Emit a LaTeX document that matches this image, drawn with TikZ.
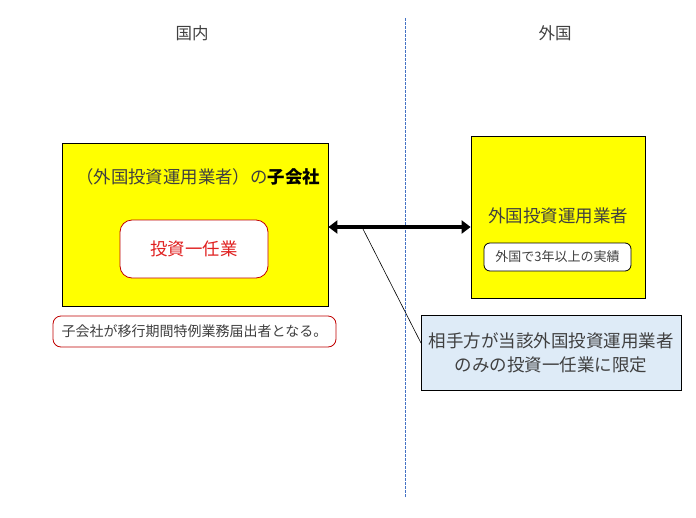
\documentclass[tikz,border=0pt]{standalone}
\usepackage{fontspec}
\setmainfont{Noto Sans CJK JP}
\usetikzlibrary{arrows.meta}
\definecolor{txtgray}{HTML}{404040}
\definecolor{notered}{HTML}{C00000}
\definecolor{textred}{HTML}{E02020}
\definecolor{calloutblue}{HTML}{DEEBF7}
\definecolor{borderblue}{HTML}{4472C4}
\definecolor{boxyellow}{HTML}{FFFF00}
\begin{document}
\begin{tikzpicture}[x=1pt,y=-1pt,
    yellowbox/.style={rectangle,draw=black,fill=boxyellow,inner sep=0pt},
    pillbox/.style={rectangle,rounded corners=8pt,inner sep=0pt,fill=white},
    label/.style={text=txtgray,inner sep=0pt}]
  \useasboundingbox (0,0) rectangle (696,517);
  % headings and border line
  \node[label,font=\fontsize{16.5}{19}\selectfont] (home) at (192,33) {国内};
  \node[label,font=\fontsize{16.5}{19}\selectfont] (abroad) at (555,33) {外国};
  \coordinate (bordertop) at (405,18);
  \coordinate (borderbot) at (405,497);
  \draw[borderblue,line width=0.6pt,dash pattern=on 2.5pt off 1.5pt] (bordertop) -- (borderbot);
  \begin{scope}[every node/.style={yellowbox,line width=0.8pt}]
    \node[minimum width=266pt,minimum height=163pt] (sub) at (195,224.5) {};
    \node[minimum width=174pt,minimum height=162pt] (firm) at (558,217) {};
  \end{scope}
  \node[label,font=\fontsize{17.4}{20}\selectfont] (subtitle) at (198,177)
    {（外国投資運用業者）の\textcolor{black}{\bfseries 子会社}};
  \node[pillbox,draw=notered,line width=0.8pt,rounded corners=12pt,
    minimum width=148pt,minimum height=58pt,text=textred,
    font=\fontsize{17.4}{20}\selectfont] (dm) at (194,249) {投資一任業};
  \node[pillbox,draw=notered,line width=0.8pt,minimum width=283pt,minimum height=31pt,
    text=txtgray,font=\fontsize{14}{16}\selectfont] (note) at (194.5,331.5)
    {子会社が移行期間特例業務届出者となる。};
  \node[label,font=\fontsize{17.5}{20}\selectfont] (firmtitle) at (558,216) {外国投資運用業者};
  \node[pillbox,draw=black,line width=0.8pt,rounded corners=6pt,minimum width=147pt,
    minimum height=28pt,text=txtgray,font=\fontsize{13}{16}\selectfont] (record) at (557.5,257)
    {外国で3年以上の実績};
  \node[rectangle,draw=black,fill=calloutblue,line width=0.8pt,minimum width=260pt,
    minimum height=75pt,text=txtgray,align=center,font=\fontsize{17.5}{24}\selectfont] (limit) at (551,352.5)
    {相手方が当該外国投資運用業者\\のみの投資一任業に限定};
  % connectors
  \coordinate (arrowrow) at (400,227);
  \draw[line width=4pt,{Triangle[length=9pt,width=13pt]}-{Triangle[length=9pt,width=13pt]}]
    (sub.east |- arrowrow) -- (firm.west |- arrowrow);
  \coordinate (pointer) at (363,229);
  \coordinate (pointerend) at (421,343);
  \draw[black,line width=0.6pt] (pointer) -- (pointerend);
\end{tikzpicture}
\end{document}
